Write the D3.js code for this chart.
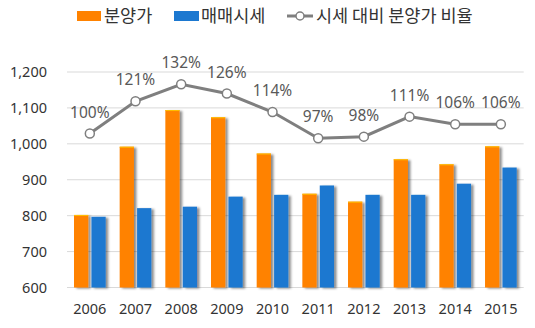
<!DOCTYPE html>
<html><head><meta charset="utf-8">
<script src="https://cdn.jsdelivr.net/npm/d3@7/dist/d3.min.js"></script>
<style>
body{margin:0;background:#fff;}
svg{display:block;font-family:"Noto Sans CJK KR","Noto Sans",sans-serif;}
</style></head>
<body><svg id="c" width="535" height="328"></svg>
<script>
const years = ["2006","2007","2008","2009","2010","2011","2012","2013","2014","2015"];
const salePrice = [802, 992, 1094, 1074, 973, 861, 839, 957, 943, 993];
const marketPrice = [797, 821, 825, 853, 858, 884, 858, 858, 889, 934];
const ratio = [100, 121, 132, 126, 114, 97, 98, 111, 106, 106];
const yTicks = [600, 700, 800, 900, 1000, 1100, 1200];
const seriesNames = ["분양가", "매매시세", "시세 대비 분양가 비율"];
const colors = ["#FF8200", "#1C78D0", "#7F7F7F"];

(function(){
const svg = d3.select("#c");
const defs = svg.append("defs");
const f = defs.append("filter").attr("id","sh").attr("x","-20%").attr("y","-5%").attr("width","160%").attr("height","115%");
f.append("feDropShadow").attr("dx",2.5).attr("dy",1).attr("stdDeviation",1).attr("flood-color","#000").attr("flood-opacity",0.45);

const pl = 67, pr = 523.7, pt = 72, pb = 287.5;
const x = d3.scaleBand().domain(years).range([pl, pr]).padding(0);
const x1 = d3.scaleBand().domain([0,1]).range([7, x.bandwidth()-7]).paddingInner(0.18);
const y = d3.scaleLinear().domain([600, 1200]).range([pb, pt]);
const y2 = d3.scaleLinear().domain([0, 140]).range([pb, pt]);

svg.append("g").selectAll("line").data(yTicks).join("line")
  .attr("x1", pl).attr("x2", pr).attr("y1", d=>y(d)).attr("y2", d=>y(d))
  .attr("stroke", "#d9d9d9").attr("stroke-width", 1);

const yAxis = d3.axisLeft(y).tickValues(yTicks).tickFormat(d3.format(",")).tickSize(0).tickPadding(20);
const ga = svg.append("g").attr("transform", `translate(${pl},0)`).call(yAxis);
ga.select(".domain").remove();
ga.selectAll("text").attr("font-size", 14.5).attr("fill", "#333").attr("font-family", "\"Noto Sans\",sans-serif");

const xAxis = d3.axisBottom(x).tickSize(0).tickPadding(16);
const gx = svg.append("g").attr("transform", `translate(0,${pb})`).call(xAxis);
gx.select(".domain").remove();
gx.selectAll("text").attr("font-size", 14.5).attr("fill", "#333").attr("font-family", "\"Noto Sans\",sans-serif");

const bars = svg.append("g").attr("filter", "url(#sh)");
[salePrice, marketPrice].forEach((vals, si) => {
  bars.append("g").selectAll("rect").data(vals).join("rect")
    .attr("x", (d,i) => x(years[i]) + x1(si))
    .attr("width", x1.bandwidth())
    .attr("y", d => y(d))
    .attr("height", d => pb - y(d))
    .attr("fill", colors[si]);
});
svg.append("g").selectAll("line").data(salePrice).join("line")
  .attr("x1", (d,i) => x(years[i]) + x1(0)).attr("x2", (d,i) => x(years[i]) + x1(0) + x1.bandwidth())
  .attr("y1", d => y(d)+0.5).attr("y2", d => y(d)+0.5)
  .attr("stroke", "#FFC000").attr("stroke-width", 1);

const cx = (i) => x(years[i]) + x.bandwidth()/2;
const line = d3.line().x((d,i)=>cx(i)).y(d=>y2(d));
svg.append("path").datum(ratio).attr("d", line).attr("fill","none")
  .attr("stroke", colors[2]).attr("stroke-width", 3);
svg.append("g").selectAll("circle").data(ratio).join("circle")
  .attr("cx", (d,i)=>cx(i)).attr("cy", d=>y2(d)).attr("r", 4.5)
  .attr("fill", "#fff").attr("stroke", colors[2]).attr("stroke-width", 1.5);
svg.append("g").selectAll("text").data(ratio).join("text")
  .attr("x", (d,i)=>cx(i)).attr("y", d=>y2(d) - 16)
  .attr("text-anchor", "middle").attr("font-size", 15.5).attr("fill", "#595959")
  .attr("font-family", "\"Noto Sans\",sans-serif")
  .text(d => d + "%");

const lg = svg.append("g").attr("font-size", 17.5).attr("fill", "#333");
lg.append("rect").attr("x", 77).attr("y", 11).attr("width", 24).attr("height", 10).attr("fill", colors[0]);
lg.append("text").attr("x", 104).attr("y", 16).attr("dy", "0.35em").text(seriesNames[0]);
lg.append("rect").attr("x", 174).attr("y", 11).attr("width", 25).attr("height", 10).attr("fill", colors[1]);
lg.append("text").attr("x", 201).attr("y", 16).attr("dy", "0.35em").text(seriesNames[1]);
lg.append("line").attr("x1", 287).attr("x2", 313).attr("y1", 16).attr("y2", 16).attr("stroke", colors[2]).attr("stroke-width", 3);
lg.append("circle").attr("cx", 300).attr("cy", 16).attr("r", 4).attr("fill", "#fff").attr("stroke", colors[2]).attr("stroke-width", 1.5);
lg.append("text").attr("x", 316).attr("y", 16).attr("dy", "0.35em").text(seriesNames[2]);
})();
</script></body></html>
